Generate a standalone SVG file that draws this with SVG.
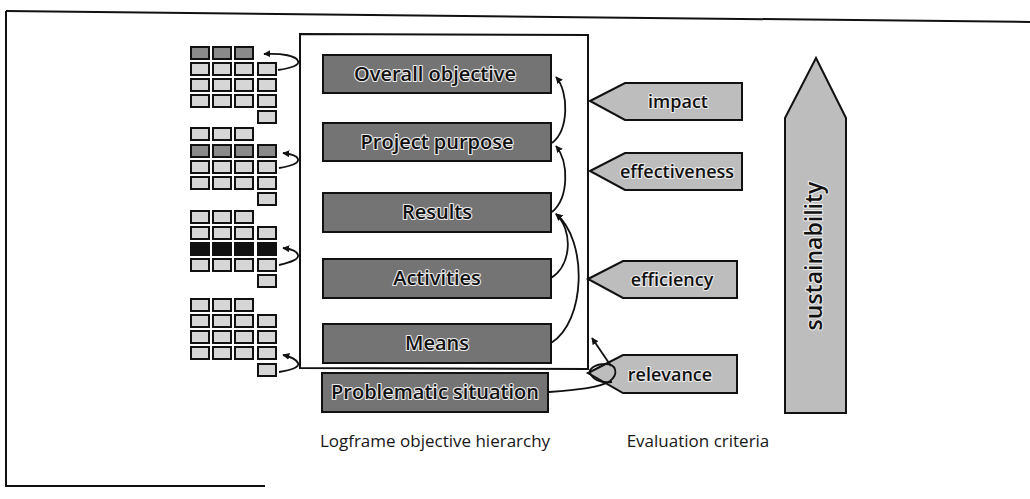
<svg xmlns="http://www.w3.org/2000/svg" width="1030" height="499" viewBox="0 0 1030 499">
  <style>
    .frame { fill: none; stroke: #111; stroke-width: 2; }
    .bar { fill: #747474; stroke: #111; stroke-width: 2; }
    .crit { fill: #bdbdbd; stroke: #111; stroke-width: 2; }
    .lbl { font-family: "Open Sans", "DejaVu Sans", sans-serif; font-weight: 600; fill: #111; stroke: #ececec; stroke-width: 2.2; paint-order: stroke fill; stroke-linejoin: round; }
    .bar-t { font-size: 20px; }
    .crit-t { font-size: 18px; }
    .caption { font-family: "Open Sans", "DejaVu Sans", sans-serif; font-size: 17px; fill: #161616; }
    .cell { fill: #d6d6d6; stroke: #111; stroke-width: 2; }
    .cell-mid { fill: #8a8a8a; stroke: #111; stroke-width: 2; }
    .cell-dark { fill: #111; stroke: #111; stroke-width: 2; }
    .conn { fill: none; stroke: #111; stroke-width: 1.8; }
  </style>
  <defs>
    <marker id="head" viewBox="0 0 10 10" refX="9" refY="5" markerWidth="7" markerHeight="7" orient="auto" markerUnits="userSpaceOnUse">
      <path d="M0,0 L10,5 L0,10 z" fill="#111"/>
    </marker>
    <!-- one logframe matrix row: 3 or 4 cells -->
    <g id="cellrow3">
      <rect x="191" y="0" width="18" height="12"/>
      <rect x="213" y="0" width="18" height="12"/>
      <rect x="235" y="0" width="18" height="12"/>
    </g>
    <g id="cellrow4">
      <rect x="191" y="0" width="18" height="12"/>
      <rect x="213" y="0" width="18" height="12"/>
      <rect x="235" y="0" width="18" height="12"/>
      <rect x="258" y="0" width="18" height="12"/>
    </g>
  </defs>

  <rect width="1030" height="499" fill="#fff"/>

  <!-- outer border (slightly skewed) -->
  <g id="outer-frame" class="frame">
    <path d="M6,11 L1030,22"/>
    <path d="M6,11 L6,486 L265,486"/>
  </g>

  <!-- inner box around the objective hierarchy -->
  <g id="hierarchy-frame">
    <path class="frame" d="M300,34 L588,35 L588,369 L300,368 Z"/>
  </g>

  <!-- matrices on the left -->
  <g id="matrix-1">
    <use href="#cellrow3" y="47" class="cell-mid"/>
    <use href="#cellrow4" y="63" class="cell"/>
    <use href="#cellrow4" y="79" class="cell"/>
    <use href="#cellrow4" y="95" class="cell"/>
    <rect class="cell" x="258" y="111" width="18" height="12"/>
  </g>
  <g id="matrix-2">
    <use href="#cellrow3" y="128" class="cell"/>
    <use href="#cellrow4" y="145" class="cell-mid"/>
    <use href="#cellrow4" y="161" class="cell"/>
    <use href="#cellrow4" y="177" class="cell"/>
    <rect class="cell" x="258" y="193" width="18" height="12"/>
  </g>
  <g id="matrix-3">
    <use href="#cellrow3" y="211" class="cell"/>
    <use href="#cellrow4" y="227" class="cell"/>
    <use href="#cellrow4" y="243" class="cell-dark"/>
    <use href="#cellrow4" y="259" class="cell"/>
    <rect class="cell" x="258" y="275" width="18" height="12"/>
  </g>
  <g id="matrix-4">
    <use href="#cellrow3" y="299" class="cell"/>
    <use href="#cellrow4" y="315" class="cell"/>
    <use href="#cellrow4" y="331" class="cell"/>
    <use href="#cellrow4" y="347" class="cell"/>
    <rect class="cell" x="258" y="364" width="18" height="12"/>
  </g>

  <!-- objective hierarchy levels -->
  <g id="overall-objective">
    <rect class="bar" x="323" y="55" width="228" height="38"/>
    <text class="lbl bar-t" x="435" y="81" text-anchor="middle">Overall objective</text>
  </g>
  <g id="project-purpose">
    <rect class="bar" x="323" y="123" width="228" height="38"/>
    <text class="lbl bar-t" x="437" y="149" text-anchor="middle">Project purpose</text>
  </g>
  <g id="results">
    <rect class="bar" x="323" y="193" width="228" height="39"/>
    <text class="lbl bar-t" x="437" y="219" text-anchor="middle">Results</text>
  </g>
  <g id="activities">
    <rect class="bar" x="323" y="259" width="228" height="39"/>
    <text class="lbl bar-t" x="437" y="285" text-anchor="middle">Activities</text>
  </g>
  <g id="means">
    <rect class="bar" x="323" y="324" width="228" height="39"/>
    <text class="lbl bar-t" x="437" y="350" text-anchor="middle">Means</text>
  </g>
  <g id="problematic-situation">
    <rect class="bar" x="322" y="373" width="226" height="39"/>
    <text class="lbl bar-t" x="435" y="399" text-anchor="middle">Problematic situation</text>
  </g>

  <!-- evaluation criteria -->
  <g id="impact">
    <path class="crit" d="M590,101 L625,83 L742,83 L742,120 L625,120 Z"/>
    <text class="lbl crit-t" x="678" y="108" text-anchor="middle">impact</text>
  </g>
  <g id="effectiveness">
    <path class="crit" d="M590,171 L625,153 L742,153 L742,190 L625,190 Z"/>
    <text class="lbl crit-t" x="677" y="178" text-anchor="middle">effectiveness</text>
  </g>
  <g id="efficiency">
    <path class="crit" d="M588,279 L623,261 L737,261 L737,298 L623,298 Z"/>
    <text class="lbl crit-t" x="672" y="286" text-anchor="middle">efficiency</text>
  </g>
  <g id="relevance">
    <path class="crit" d="M588,373 L623,355 L737,355 L737,393 L623,393 Z"/>
    <text class="lbl crit-t" x="670" y="381" text-anchor="middle">relevance</text>
  </g>
  <g id="sustainability">
    <path class="crit" d="M816,58 L846,118 L846,413 L785,413 L785,118 Z"/>
    <text class="lbl" font-size="23" transform="translate(822,256) rotate(-90)" text-anchor="middle">sustainability</text>
  </g>

  <!-- connectors -->
  <g id="connectors" class="conn">
    <!-- hierarchy links on the right -->
    <path d="M552,143 C569,130 569,92 556,77" marker-end="url(#head)"/>
    <path d="M552,212 C569,198 569,162 556,146" marker-end="url(#head)"/>
    <path d="M551,278 C572,265 573,230 556,214" marker-end="url(#head)"/>
    <path d="M551,343 C586,322 588,240 556,214" marker-end="url(#head)"/>
    <!-- links from the box to the matrices -->
    <path d="M278,70 C292,68 300,65 298,61 C296,56 283,53 264,54" marker-end="url(#head)"/>
    <path d="M279,168 C292,166 299,163 298,159 C297,156 292,154 283,153" marker-end="url(#head)"/>
    <path d="M279,265 C292,262 299,259 298,255 C297,251 292,249 283,248" marker-end="url(#head)"/>
    <path d="M279,372 C292,370 300,367 298,363 C296,359 292,357 283,355" marker-end="url(#head)"/>
    <!-- problematic situation to relevance -->
    <path d="M549,392 C575,390 600,388 610,381 C619,374 616,364 606,364 C595,364 587,369 591,375 C595,381 603,383 612,382"/>
    <path d="M611,366 L592,338" marker-end="url(#head)"/>
  </g>

  <!-- captions -->
  <text class="caption" x="435" y="447" text-anchor="middle">Logframe objective hierarchy</text>
  <text class="caption" x="698" y="447" text-anchor="middle">Evaluation criteria</text>
</svg>
